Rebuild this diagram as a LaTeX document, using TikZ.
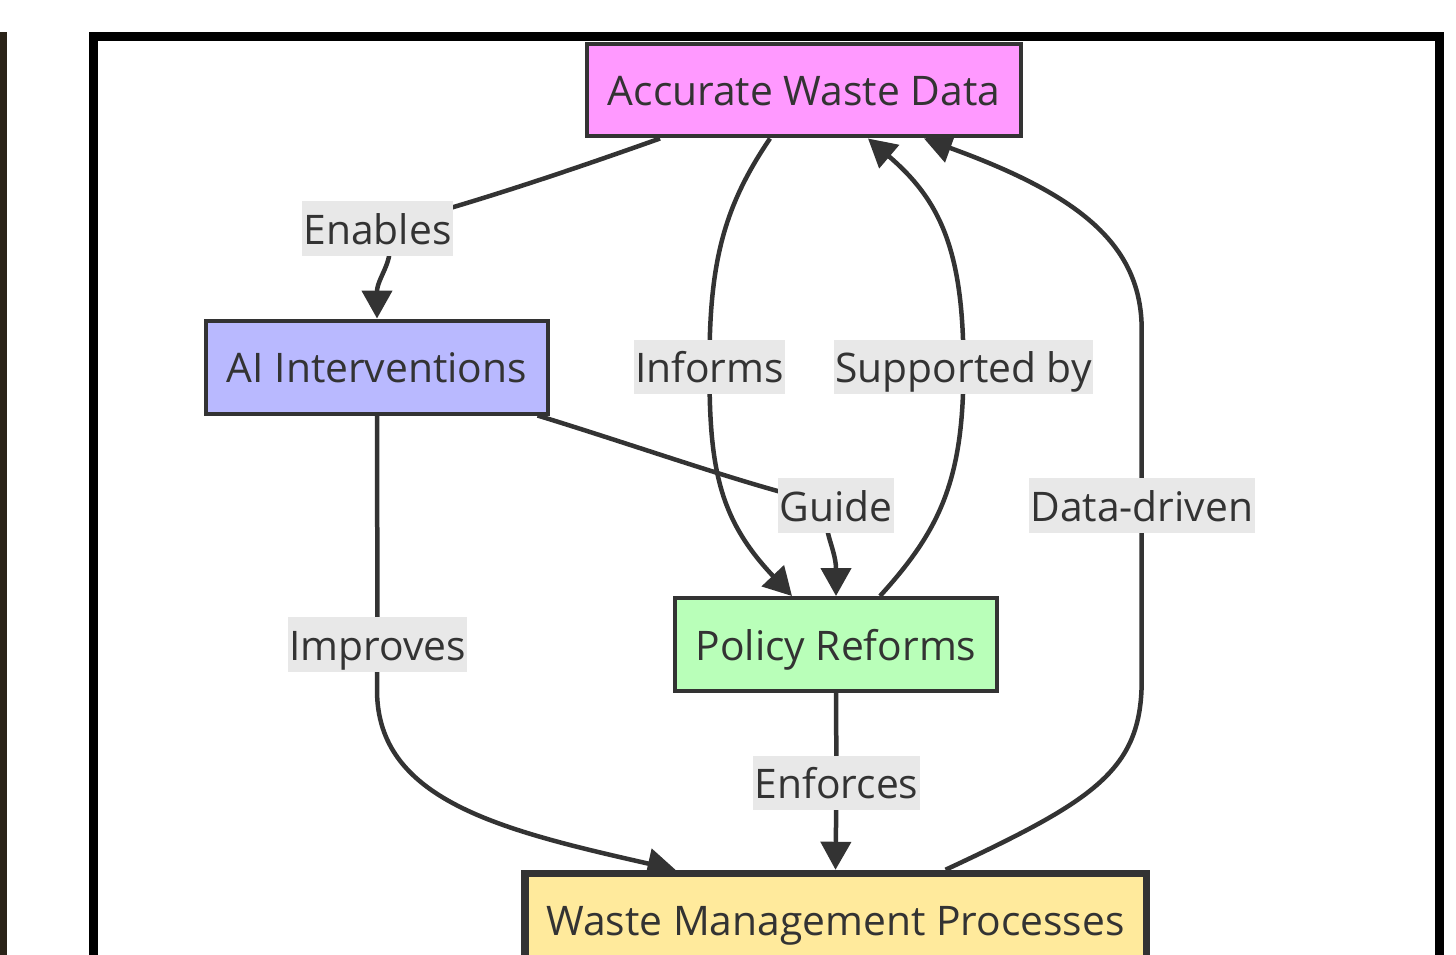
\documentclass[tikz,border=0pt]{standalone}
\usepackage{fontspec}
\setmainfont{Open Sans}
\usepackage{tikz}
\usetikzlibrary{arrows.meta, positioning, calc, backgrounds}

\definecolor{ink}{HTML}{333333}
\definecolor{datafill}{HTML}{FF99FF}
\definecolor{aifill}{HTML}{B9B9FF}
\definecolor{polfill}{HTML}{B9FFB9}
\definecolor{wastefill}{HTML}{FFEA9C}
\definecolor{lblfill}{HTML}{E8E8E8}
\definecolor{sidebar}{HTML}{2A2318}

\begin{document}
\begin{tikzpicture}[
  x=0.02cm, y=-0.02cm,
  every node/.style={font=\fontsize{23.2pt}{27pt}\selectfont, text=ink},
  st/.style={rectangle, draw=ink, line width=0.08cm, minimum height=1.86cm, inner xsep=0.41cm, inner ysep=0pt, text height=0.856cm, text depth=0.234cm},
  datast/.style={st, fill=datafill},
  aist/.style={st, fill=aifill},
  polst/.style={st, fill=polfill},
  wastest/.style={st, fill=wastefill, line width=0.15cm, inner xsep=0.43cm},
  lbl/.style={fill=lblfill, inner xsep=0.03cm, inner ysep=0pt, text height=0.856cm, text depth=0.234cm},
  arr/.style={-{Triangle[length=0.56cm, width=0.6cm]}, draw=ink, line width=0.09cm},
]
\useasboundingbox (0,0) rectangle (1456,954);
\clip (0,0) rectangle (1456,954);

% page edge and frame
\fill[sidebar] (0,32) rectangle (7,960);
\draw[black, line width=0.18cm] (93.5,36.5) rectangle (1439.5,1000);

\node[datast]  (data)   at (804,90)     {Accurate Waste Data};
\node[aist]    (ai)     at (377,367)    {AI Interventions};
\node[polst]   (policy) at (836,644.5)  {Policy Reforms};
\node[wastest] (waste)  at (835.5,920)  {Waste Management Processes};

\node[lbl] (enables)   at (377.5,228.5)  {Enables};
\node[lbl] (informs)   at (709.5,367)    {Informs};
\node[lbl] (supported) at (963.5,367)    {Supported by};
\node[lbl] (guide)     at (836,505.5)    {Guide};
\node[lbl] (driven)    at (1141.7,505.5) {Data-driven};
\node[lbl] (improves)  at (377.5,644.5)  {Improves};
\node[lbl] (enforces)  at (836.5,783)    {Enforces};

\begin{scope}[on background layer]
\draw[arr] ($(data.south)+(-144,0)$) .. controls (560,174) and (470,204) .. (enables.center)
  .. controls (405,250) and (377,275) .. (ai.north);
\draw[arr] ($(data.south)+(-34,0)$) .. controls (725,205) and (709,260) .. (informs.center)
  .. controls (709,470) and (720,520) .. ($(policy.north)+(-44,0)$);
\draw[arr] ($(policy.north)+(44,0)$) .. controls (940,530) and (963.5,480) .. (supported.center)
  .. controls (963.5,250) and (940,200) .. ($(data.south)+(64,0)$);
\draw[arr] ($(ai.south east)+(-12,0)$) .. controls (650,450) and (760,490) .. (guide.center)
  .. controls (815,520) and (836,545) .. (policy.north);
\draw[arr] ($(waste.north)+(110,0)$) .. controls (1095,800) and (1141.7,770) .. (1141.7,680)
  -- (driven.center) -- (1141.7,330) .. controls (1141.7,245) and (1080,195) .. ($(data.south)+(120,0)$);
\draw[arr] (ai.south) -- (improves.center) -- (377,690)
  .. controls (377,800) and (500,830) .. ($(waste.north)+(-160,0)$);
\draw[arr] (policy.south) -- (enforces.center) -- (waste.north);
\end{scope}
\end{tikzpicture}
\end{document}
